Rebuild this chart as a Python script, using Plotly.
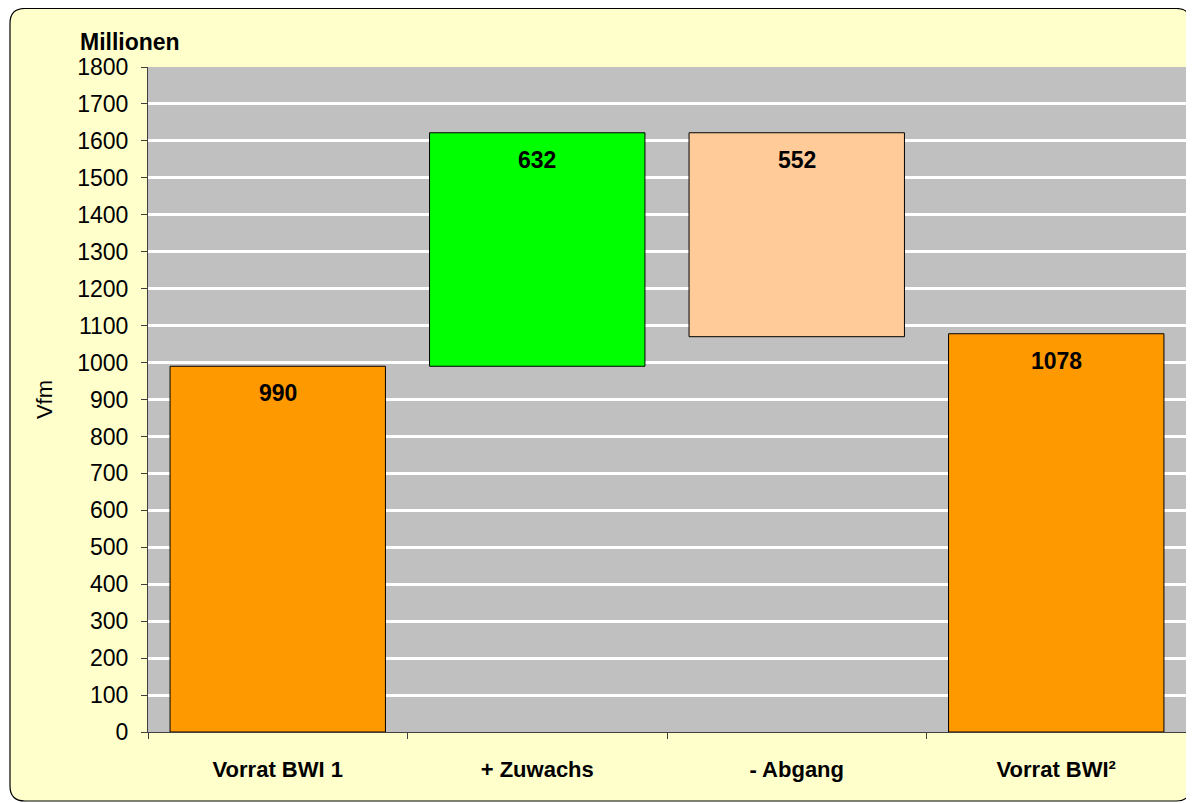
import plotly.graph_objects as go

# Werte (Millionen Vfm)
kategorien = ['Vorrat BWI 1', '+ Zuwachs', '- Abgang', 'Vorrat BWI²']
werte = [990, 632, 552, 1078]
basis = [0, 990, 1070, 0]
farben = ['#FF9900', '#00FF00', '#FFCC99', '#FF9900']

FONT = 'Liberation Sans, Arial'
W, H = 1186, 795
ML, MR, MT, MB = 140, 8, 59, 71
PW, PH = W - ML - MR, H - MT - MB


def px2paper(x, y):
    return (x - ML) / PW, (H - MB - y) / PH


fig = go.Figure()
fig.add_trace(go.Bar(
    x=kategorien, y=werte, base=basis,
    marker=dict(color=farben, line=dict(color='black', width=1)),
    width=0.83, hoverinfo='skip', showlegend=False,
))

# Wertbeschriftungen oben im Balken
for k, w, b in zip(kategorien, werte, basis):
    fig.add_annotation(
        x=k, y=b + w, text='<b>%d</b>' % w, showarrow=False,
        yanchor='top', yshift=-12,
        font=dict(family=FONT, size=23, color='black'),
    )

mx, my = px2paper(70, 49)
fig.add_annotation(
    xref='paper', yref='paper', x=mx, y=my,
    text='<b>Millionen</b>', showarrow=False, xanchor='left', yanchor='bottom',
    font=dict(family=FONT, size=23, color='black'),
)

# abgerundeter Rahmen (Pixel -> paper)
x0, x1, y0, y1, r = 2, 1183, 0.5, 793, 15
pts = [
    ('M', x0 + r, y0), ('L', x1 - r, y0), ('Q', x1, y0, x1, y0 + r),
    ('L', x1, y1 - r), ('Q', x1, y1, x1 - r, y1),
    ('L', x0 + r, y1), ('Q', x0, y1, x0, y1 - r),
    ('L', x0, y0 + r), ('Q', x0, y0, x0 + r, y0),
]
path = ''
for p in pts:
    cmd, coords = p[0], p[1:]
    xy = []
    for i in range(0, len(coords), 2):
        a, b = px2paper(coords[i], coords[i + 1])
        xy.append('%.5f,%.5f' % (a, b))
    path += cmd + ' ' + ' '.join(xy) + ' '
path += 'Z'
fig.add_shape(
    type='path', xref='paper', yref='paper', layer='below', path=path,
    fillcolor='#FFFFCC', line=dict(color='black', width=1.2),
)
# grauer Zeichenbereich
fig.add_shape(
    type='rect', xref='paper', yref='paper', layer='below',
    x0=0, x1=1, y0=0, y1=1, fillcolor='#C0C0C0', line=dict(width=0),
)

fig.update_layout(
    width=W, height=H,
    margin=dict(l=ML, r=MR, t=MT, b=MB),
    paper_bgcolor='white', plot_bgcolor='#C0C0C0',
    font=dict(family=FONT, size=23, color='black'),
    xaxis=dict(
        type='category', tickson='boundaries', ticks='outside', ticklen=6,
        tickcolor='#404040', showline=True, linecolor='#404040', linewidth=1,
        tickfont=dict(size=22, family=FONT, weight='bold'),
        ticklabelstandoff=18, showgrid=False,
    ),
    yaxis=dict(
        range=[0, 1800], dtick=100, tick0=0,
        ticks='outside', ticklen=6, tickcolor='#404040',
        showline=True, linecolor='#404040', linewidth=1,
        gridcolor='white', gridwidth=3, zeroline=False,
        title=dict(text='Vfm', standoff=18, font=dict(size=22)),
        tickfont=dict(size=23), ticklabelstandoff=8,
    ),
)

fig.write_html('out.html')
